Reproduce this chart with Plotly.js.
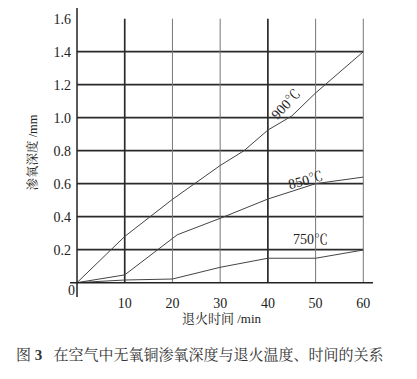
<!DOCTYPE html>
<html>
<head>
<meta charset="utf-8">
<script src="https://cdn.plot.ly/plotly-3.0.1.min.js"></script>
<style>html,body{margin:0;padding:0;background:#fff;}#chart{width:417px;height:379px;}</style>
</head>
<body>
<div id="chart"></div>
<script>
// Data
var time900 = [0, 10, 20, 30, 35, 40, 45, 50, 60];
var depth900 = [0, 0.28, 0.505, 0.71, 0.80, 0.925, 1.01, 1.15, 1.40];
var time850 = [0, 10, 21, 30, 40, 50, 60];
var depth850 = [0, 0.047, 0.29, 0.39, 0.507, 0.60, 0.64];
var time750 = [0, 10, 20, 30, 40, 50, 60];
var depth750 = [0, 0.016, 0.022, 0.093, 0.148, 0.148, 0.198];
var seriesLabels = ['900℃', '850℃', '750℃'];
var xTicks = [10, 20, 30, 40, 50, 60];
var yTicks = [0.2, 0.4, 0.6, 0.8, 1.0, 1.2, 1.4, 1.6];
var yTickText = ['0.2', '0.4', '0.6', '0.8', '1.0', '1.2', '1.4', '1.6'];
var hGrid = [0.2, 0.4, 0.6, 0.8, 1.0, 1.2, 1.4];
var vGridThick = [10, 40];
var vGridThin = [20, 30, 50, 60];

var FONT = 'Liberation Serif, Noto Serif CJK SC, Noto Sans CJK SC, serif';
var lineStyle = {color: '#444', width: 1};

var traces = [
  {x: time900, y: depth900, mode: 'lines', line: lineStyle, showlegend: false, hoverinfo: 'skip'},
  {x: time850, y: depth850, mode: 'lines', line: lineStyle, showlegend: false, hoverinfo: 'skip'},
  {x: time750, y: depth750, mode: 'lines', line: lineStyle, showlegend: false, hoverinfo: 'skip'}
];

var shapes = [];
hGrid.forEach(function (v) {
  shapes.push({type: 'line', xref: 'x', yref: 'y', x0: 0, x1: 60, y0: v, y1: v, line: {color: '#2a2a2a', width: 1.7}, layer: 'below'});
});
vGridThick.forEach(function (v) {
  shapes.push({type: 'line', xref: 'x', yref: 'y', x0: v, x1: v, y0: 0, y1: 1.6, line: {color: '#2a2a2a', width: 1.7}, layer: 'below'});
});
vGridThin.forEach(function (v) {
  shapes.push({type: 'line', xref: 'x', yref: 'y', x0: v, x1: v, y0: 0, y1: 1.6, line: {color: '#777', width: 1}, layer: 'below'});
});
// axis lines
shapes.push({type: 'line', xref: 'paper', yref: 'y', x0: 0, x1: 1, y0: 0, y1: 0, line: {color: '#222', width: 1.5}});
shapes.push({type: 'line', xref: 'x', yref: 'paper', x0: 0, x1: 0, y0: 0, y1: 1, line: {color: '#222', width: 1.5}});

var annotations = [
  {x: 43.8, y: 1.077, xref: 'x', yref: 'y', text: seriesLabels[0], showarrow: false, textangle: -47, font: {family: FONT, size: 14, color: '#222'}},
  {x: 47.8, y: 0.622, xref: 'x', yref: 'y', text: seriesLabels[1], showarrow: false, textangle: -15, font: {family: FONT, size: 14, color: '#222'}},
  {x: 49.0, y: 0.259, xref: 'x', yref: 'y', text: seriesLabels[2], showarrow: false, font: {family: FONT, size: 14, color: '#222'}},
  {x: -1.26, y: -0.048, xref: 'x', yref: 'y', text: '0', showarrow: false, font: {family: FONT, size: 14, color: '#222'}},
  {x: 0, y: 0.50, xref: 'paper', yref: 'paper', xanchor: 'center', yanchor: 'middle', xshift: -38,
   text: '渗氧深度 /mm', textangle: -90, showarrow: false, font: {family: FONT, size: 12.5, color: '#222'}},
  {x: 0.43, y: -0.2, xref: 'paper', yref: 'paper', xanchor: 'center', yanchor: 'middle',
   text: '图 <b>3</b>   在空气中无氧铜渗氧深度与退火温度、时间的关系', showarrow: false,
   font: {family: FONT, size: 15, color: '#333'}}
];

var layout = {
  width: 417, height: 379,
  margin: {l: 70, r: 44, t: 8, b: 82},
  paper_bgcolor: '#fff', plot_bgcolor: '#fff',
  showlegend: false,
  font: {family: FONT, size: 14, color: '#222'},
  xaxis: {
    range: [-1.47, 62.03], showgrid: false, zeroline: false, showline: false,
    tickmode: 'array', tickvals: xTicks, ticks: '', ticklabelstandoff: -4,
    tickfont: {family: FONT, size: 14, color: '#222'},
    title: {text: '退火时间 /min', font: {family: FONT, size: 13, color: '#222'}, standoff: 0}
  },
  yaxis: {
    range: [-0.087, 1.665], showgrid: false, zeroline: false, showline: false,
    tickmode: 'array', tickvals: yTicks, ticktext: yTickText, ticks: '', ticklabelstandoff: -2,
    tickfont: {family: FONT, size: 14, color: '#222'}
  },
  shapes: shapes,
  annotations: annotations
};

Plotly.newPlot('chart', traces, layout, {displayModeBar: false, staticPlot: true});
</script>
</body>
</html>
